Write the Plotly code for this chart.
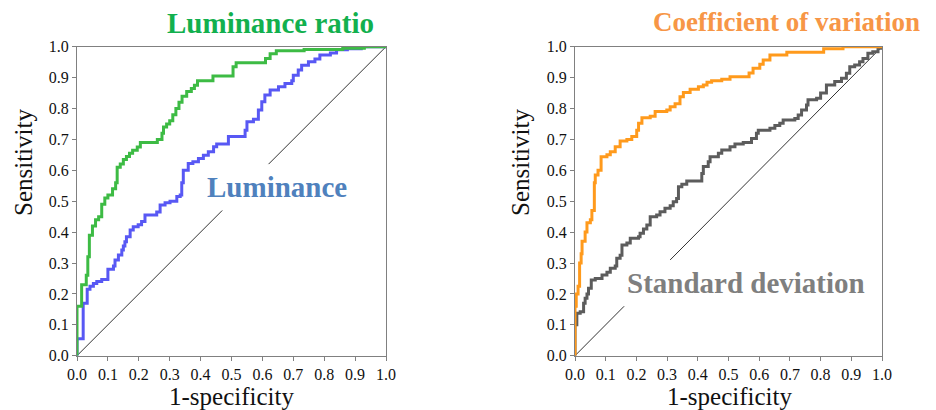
import plotly.graph_objects as go

# ---- data ----
ratio_x = [0, 0, 0.015, 0.03, 0.035, 0.04, 0.05, 0.06, 0.07, 0.08, 0.09, 0.10, 0.115, 0.125, 0.13, 0.14,
           0.15, 0.16, 0.17, 0.18, 0.195, 0.205, 0.26, 0.275, 0.28, 0.29, 0.30, 0.31, 0.32, 0.33, 0.34,
           0.355, 0.37, 0.38, 0.39, 0.44, 0.505, 0.515, 0.53, 0.61, 0.625, 0.645, 0.735, 0.86, 0.93, 1.0]
ratio_y = [0, 0.16, 0.23, 0.26, 0.32, 0.39, 0.42, 0.44, 0.45, 0.49, 0.51, 0.52, 0.54, 0.56, 0.61, 0.62,
           0.635, 0.645, 0.655, 0.665, 0.675, 0.69, 0.70, 0.72, 0.74, 0.75, 0.76, 0.78, 0.80, 0.82, 0.84,
           0.855, 0.865, 0.875, 0.89, 0.905, 0.935, 0.948, 0.948, 0.962, 0.977, 0.987, 0.991, 0.995, 1.0, 1.0]

lum_x = [0, 0, 0.02, 0.033, 0.042, 0.053, 0.064, 0.08, 0.10, 0.118, 0.123, 0.134, 0.145, 0.15, 0.155, 0.16,
         0.172, 0.182, 0.198, 0.209, 0.22, 0.258, 0.269, 0.285, 0.301, 0.323, 0.334, 0.339, 0.344, 0.36,
         0.375, 0.393, 0.409, 0.425, 0.442, 0.452, 0.49, 0.544, 0.55, 0.571, 0.587, 0.598, 0.608, 0.625,
         0.652, 0.673, 0.695, 0.70, 0.716, 0.727, 0.749, 0.77, 0.786, 0.82, 0.84, 0.875, 0.92, 1.0]
lum_y = [0, 0.055, 0.17, 0.215, 0.225, 0.234, 0.24, 0.247, 0.28, 0.29, 0.31, 0.326, 0.342, 0.355, 0.369,
         0.385, 0.407, 0.417, 0.424, 0.434, 0.455, 0.465, 0.488, 0.495, 0.50, 0.515, 0.52, 0.56, 0.60,
         0.622, 0.628, 0.638, 0.649, 0.66, 0.676, 0.685, 0.709, 0.73, 0.757, 0.765, 0.795, 0.822, 0.844,
         0.86, 0.87, 0.881, 0.89, 0.908, 0.925, 0.94, 0.951, 0.96, 0.973, 0.98, 0.99, 0.993, 1.0, 1.0]

cv_x = [0, 0, 0.004, 0.01, 0.015, 0.02, 0.023, 0.033, 0.039, 0.05, 0.055, 0.063, 0.066, 0.075, 0.085,
        0.104, 0.115, 0.131, 0.147, 0.169, 0.185, 0.201, 0.207, 0.218, 0.245, 0.261, 0.299, 0.31, 0.326,
        0.342, 0.353, 0.375, 0.402, 0.418, 0.43, 0.445, 0.478, 0.505, 0.567, 0.58, 0.602, 0.613, 0.635,
        0.69, 0.81, 0.873, 1.0]
cv_y = [0, 0.16, 0.20, 0.225, 0.30, 0.33, 0.37, 0.40, 0.43, 0.44, 0.47, 0.56, 0.585, 0.60, 0.644,
        0.65, 0.66, 0.676, 0.695, 0.70, 0.709, 0.73, 0.752, 0.77, 0.775, 0.79, 0.795, 0.806, 0.815,
        0.838, 0.852, 0.862, 0.87, 0.876, 0.885, 0.89, 0.895, 0.903, 0.915, 0.93, 0.943, 0.957, 0.973,
        0.982, 0.993, 1.0, 1.0]

sd_x = [0, 0, 0.006, 0.017, 0.028, 0.033, 0.039, 0.044, 0.053, 0.066, 0.088, 0.104, 0.115, 0.131, 0.136,
        0.147, 0.153, 0.169, 0.18, 0.207, 0.212, 0.223, 0.234, 0.245, 0.266, 0.277, 0.293, 0.31, 0.32,
        0.331, 0.337, 0.348, 0.364, 0.413, 0.418, 0.434, 0.44, 0.467, 0.478, 0.505, 0.521, 0.548, 0.575,
        0.591, 0.597, 0.635, 0.651, 0.667, 0.678, 0.716, 0.727, 0.738, 0.754, 0.759, 0.787, 0.80, 0.819,
        0.846, 0.868, 0.884, 0.895, 0.911, 0.927, 0.938, 0.954, 0.97, 0.987, 1.0]
sd_y = [0, 0.10, 0.137, 0.142, 0.17, 0.186, 0.20, 0.218, 0.245, 0.25, 0.261, 0.27, 0.283, 0.29, 0.315,
        0.325, 0.358, 0.365, 0.38, 0.385, 0.396, 0.41, 0.423, 0.45, 0.455, 0.466, 0.477, 0.485, 0.498,
        0.509, 0.547, 0.555, 0.565, 0.59, 0.612, 0.628, 0.644, 0.655, 0.666, 0.676, 0.685, 0.69, 0.703,
        0.72, 0.73, 0.736, 0.745, 0.752, 0.763, 0.768, 0.779, 0.795, 0.811, 0.828, 0.833, 0.85, 0.876,
        0.887, 0.898, 0.914, 0.935, 0.941, 0.951, 0.962, 0.979, 0.984, 0.995, 1.0]

diag_left = [0, 0.47, None, 0.62, 1.0]
diag_right = [0, 0.16, None, 0.31, 1.0]

tick_vals = [0.0, 0.1, 0.2, 0.3, 0.4, 0.5, 0.6, 0.7, 0.8, 0.9, 1.0]
tick_text = ["0.0", "0.1", "0.2", "0.3", "0.4", "0.5", "0.6", "0.7", "0.8", "0.9", "1.0"]

SERIF = "Liberation Serif, Times New Roman, serif"

fig = go.Figure()

def step(x, y, color, axis, width=3):
    fig.add_trace(go.Scatter(x=x, y=y, mode="lines", line=dict(color=color, width=width, shape="hv"),
                             xaxis="x" + axis, yaxis="y" + axis, showlegend=False, hoverinfo="skip",
                             cliponaxis=False))

# diagonals
fig.add_trace(go.Scatter(x=diag_left, y=diag_left, mode="lines", line=dict(color="#333333", width=1),
                         xaxis="x", yaxis="y", showlegend=False, connectgaps=False))
fig.add_trace(go.Scatter(x=diag_right, y=diag_right, mode="lines", line=dict(color="#333333", width=1),
                         xaxis="x2", yaxis="y2", showlegend=False, connectgaps=False))

step(lum_x, lum_y, "#5858F4", "")
step(ratio_x, ratio_y, "#3DBB44", "")
step(sd_x, sd_y, "#5C5C5C", "2")
step(cv_x, cv_y, "#FF9A1C", "2")

# the page body adds an 8px margin, so the figure is drawn 8px in from the window's corner
OFF = 8
W, H = 936 - 2 * OFF, 410 - OFF
def px(x):
    return (x - OFF) / W
def py(y):
    return 1 - (y - OFF) / H

axis_common = dict(range=[0, 1], tickvals=tick_vals, ticktext=tick_text, ticks="outside", ticklen=4,
                   tickcolor="#808080", showline=True, linecolor="#808080", linewidth=1, mirror=True,
                   showgrid=False, zeroline=False, automargin=False,
                   tickfont=dict(family=SERIF, size=16, color="#111111"))

fig.update_layout(
    width=W, height=H, margin=dict(l=0, r=0, t=0, b=0),
    paper_bgcolor="white", plot_bgcolor="white",
    xaxis=dict(domain=[px(77), px(386)], anchor="y", **axis_common),
    yaxis=dict(domain=[py(355.7), py(46.7)], anchor="x", **axis_common),
    xaxis2=dict(domain=[px(575), px(882)], anchor="y2", **axis_common),
    yaxis2=dict(domain=[py(355.7), py(46.7)], anchor="x2", **axis_common),
)

ann = []
def text(x, y, s, size, color, bold=False, angle=0):
    ann.append(dict(x=px(x), y=py(y), xref="paper", yref="paper", text=("<b>%s</b>" % s) if bold else s,
                    showarrow=False, xanchor="center", yanchor="middle", textangle=angle,
                    font=dict(family=SERIF, size=size, color=color)))

text(270, 23, "Luminance ratio", 29, "#12B04E", bold=True)
text(786, 22, "Coefficient of variation", 27, "#F79646", bold=True)
text(277, 187, "Luminance", 29, "#4F81BD", bold=True)
text(746, 283, "Standard deviation", 29, "#7F7F7F", bold=True)
text(23, 163, "Sensitivity", 25, "#111111", angle=-90)
text(520, 163, "Sensitivity", 25, "#111111", angle=-90)
text(231, 396, "1-specificity", 25, "#111111")
text(729, 396, "1-specificity", 25, "#111111")
fig.update_layout(annotations=ann)

fig.write_html("out.html")
